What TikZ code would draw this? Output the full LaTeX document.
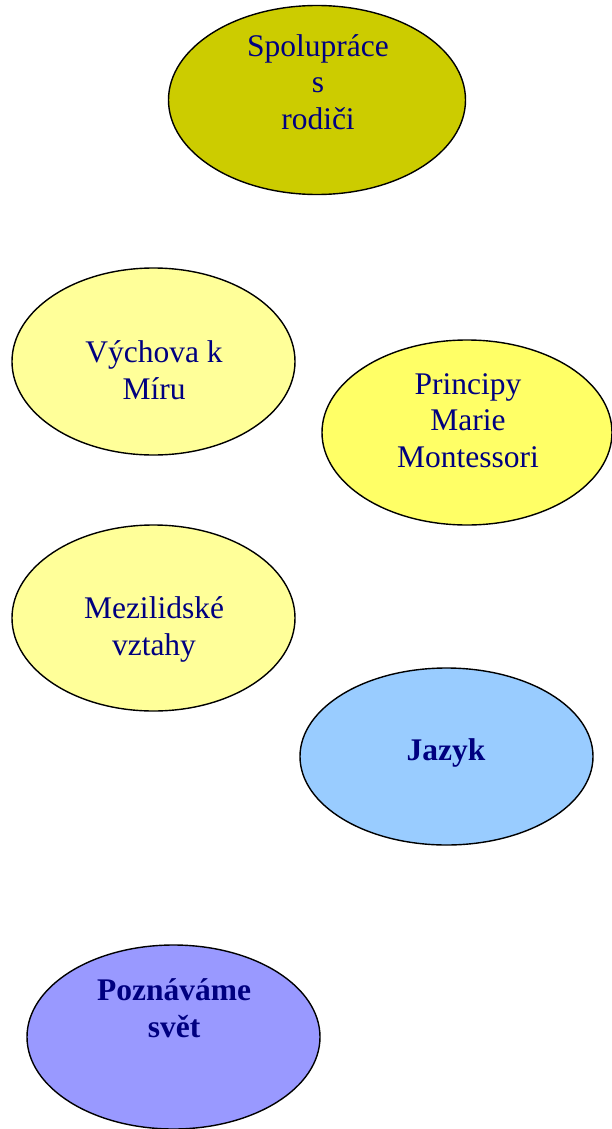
\documentclass[tikz,border=0pt]{standalone}
\usepackage{fontspec}
\setmainfont{Liberation Serif}
\usetikzlibrary{shapes.geometric}
\definecolor{olivefill}{HTML}{CCCC00}
\definecolor{paleyellow}{HTML}{FFFF99}
\definecolor{brightyellow}{HTML}{FFFF66}
\definecolor{skyfill}{HTML}{99CCFF}
\definecolor{lavenderfill}{HTML}{9999FF}
\definecolor{navytext}{HTML}{000080}
\tikzset{
  bubble/.style={ellipse, draw=black, line width=1.4pt, inner sep=0pt},
  label/.style={anchor=base, align=center, text=navytext, inner sep=0pt,
    font=\fontsize{31.5}{36.5}\selectfont},
  boldlabel/.style={label, font=\fontsize{31.5}{36.5}\selectfont\bfseries}
}
\begin{document}
\begin{tikzpicture}[x=1pt,y=-1pt]
\useasboundingbox (0,0) rectangle (612,1129);
\node[bubble, fill=olivefill, minimum width=297pt, minimum height=189pt] (e1) at (317,100) {};
\node[label] (t1) at (318,129.5) {Spolupráce\\s\\rodiči};
\node[bubble, fill=paleyellow, minimum width=283pt, minimum height=187pt] (e2) at (153.5,361.5) {};
\node[label] (t2) at (154,399) {Výchova k\\Míru};
\node[bubble, fill=brightyellow, minimum width=290pt, minimum height=185pt] (e3) at (467,432.5) {};
\node[label] (t3) at (468,467) {Principy\\Marie\\Montessori};
\node[bubble, fill=paleyellow, minimum width=283pt, minimum height=186pt] (e4) at (153.5,618) {};
\node[label] (t4) at (154,655) {Mezilidské\\vztahy};
\node[bubble, fill=skyfill, minimum width=293pt, minimum height=177pt] (e5) at (446.5,756.5) {};
\node[boldlabel] (t5) at (446,760) {Jazyk};
\node[bubble, fill=lavenderfill, minimum width=293pt, minimum height=184pt] (e6) at (173.5,1037) {};
\node[boldlabel] (t6) at (174,1037) {Poznáváme\\svět};
\end{tikzpicture}
\end{document}
